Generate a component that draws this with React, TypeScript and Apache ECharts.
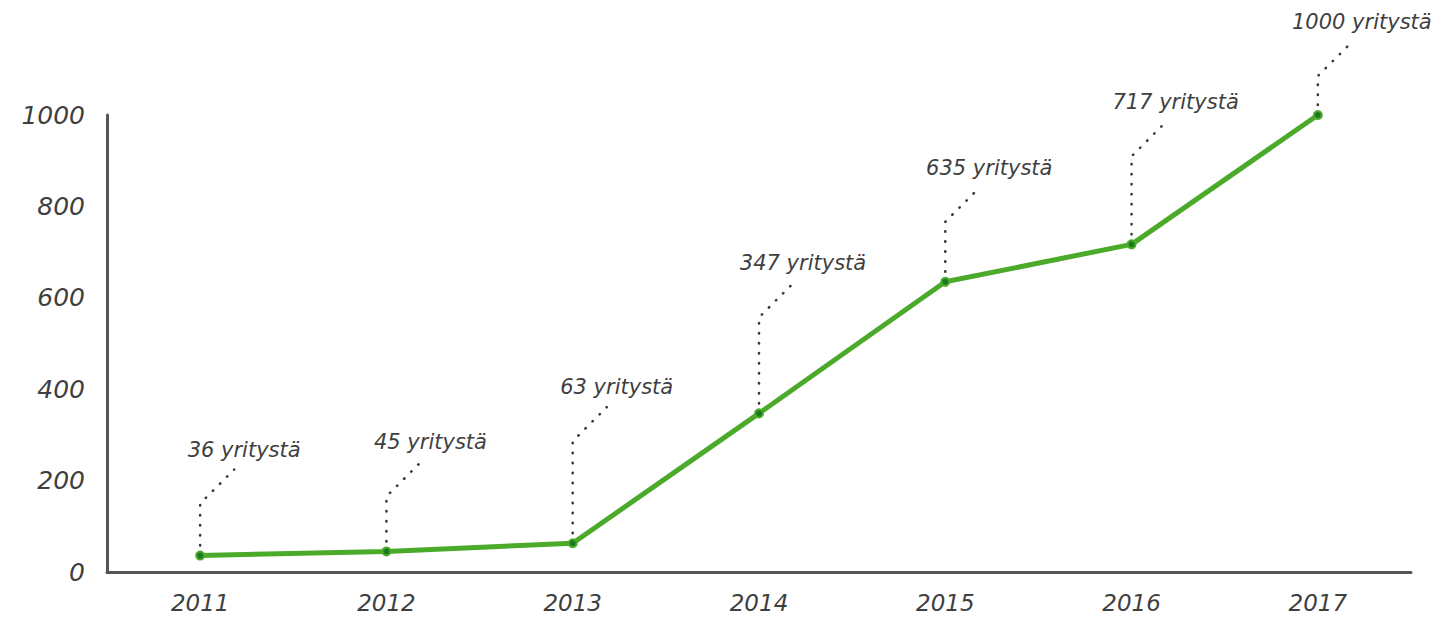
import React, { useEffect, useRef } from "react";
import * as echarts from "echarts";

const years = ["2011", "2012", "2013", "2014", "2015", "2016", "2017"];
const companies = [36, 45, 63, 347, 635, 717, 1000];
const labelSuffix = " yritystä";
const yTicks = { min: 0, max: 1000, interval: 200 };

// vertical rise (px) of each dotted leader line before it bends
const leaderRise = [52, 55, 102, 96, 60, 88, 39];

const GREEN = "#4caa2b";
const TEXT = "#3f3f3f";
const FONT = "'DejaVu Sans', Verdana, sans-serif";

export default function App() {
  const ref = useRef<HTMLDivElement>(null);
  useEffect(() => {
    if (!ref.current) return;
    const chart = echarts.init(ref.current, undefined, { renderer: "svg" });
    chart.setOption({
      animation: false,
      backgroundColor: "#ffffff",
      grid: { left: 107, right: 32, top: 115, bottom: 45 },
      xAxis: {
        type: "category",
        data: years,
        boundaryGap: true,
        axisLine: { show: true, lineStyle: { color: "#555555", width: 3 } },
        axisTick: { show: false },
        axisLabel: {
          color: TEXT,
          fontSize: 23,
          fontStyle: "italic",
          fontFamily: FONT,
          margin: 19,
        },
        splitLine: { show: false },
      },
      yAxis: {
        type: "value",
        min: yTicks.min,
        max: yTicks.max,
        interval: yTicks.interval,
        axisLine: { show: true, lineStyle: { color: "#555555", width: 3 } },
        axisTick: { show: false },
        axisLabel: {
          color: TEXT,
          fontSize: 25,
          fontStyle: "italic",
          fontFamily: FONT,
          margin: 22,
          formatter: (v: number) => String(v),
        },
        splitLine: { show: false },
      },
      series: [
        {
          type: "line",
          data: companies,
          lineStyle: { color: GREEN, width: 5 },
          symbol: "circle",
          symbolSize: 8,
          showSymbol: true,
          itemStyle: { color: "#1b7a1f", borderColor: GREEN, borderWidth: 2 },
          z: 3,
        },
        {
          type: "custom",
          clip: false,
          z: 2,
          data: companies.map((v, i) => [i, v]),
          renderItem: (params: any, api: any) => {
            const idx = params.dataIndex;
            const p = api.coord([api.value(0), api.value(1)]);
            const rise = leaderRise[idx];
            const x0 = p[0];
            const y0 = p[1] - 10;
            const y1 = p[1] - rise;
            const x2 = x0 + 34;
            const y2 = y1 - 34;
            return {
              type: "group",
              children: [
                {
                  type: "polyline",
                  shape: { points: [[x0, y0], [x0, y1], [x2, y2]] },
                  style: {
                    stroke: "#3a3a3a",
                    lineWidth: 2.6,
                    lineCap: "round",
                    lineDash: [0.4, 9.6],
                    fill: null,
                  },
                },
                {
                  type: "text",
                  style: {
                    text: companies[idx] + labelSuffix,
                    x: x2 + 10,
                    y: y2 - 20,
                    align: "center",
                    verticalAlign: "middle",
                    fill: TEXT,
                    fontSize: 21,
                    fontStyle: "italic",
                    fontFamily: FONT,
                  },
                },
              ],
            };
          },
        },
      ],
    });
    return () => chart.dispose();
  }, []);
  return (
    <div
      ref={ref}
      style={{ position: "fixed", left: 0, top: 0, width: 1443, height: 617 }}
    />
  );
}
